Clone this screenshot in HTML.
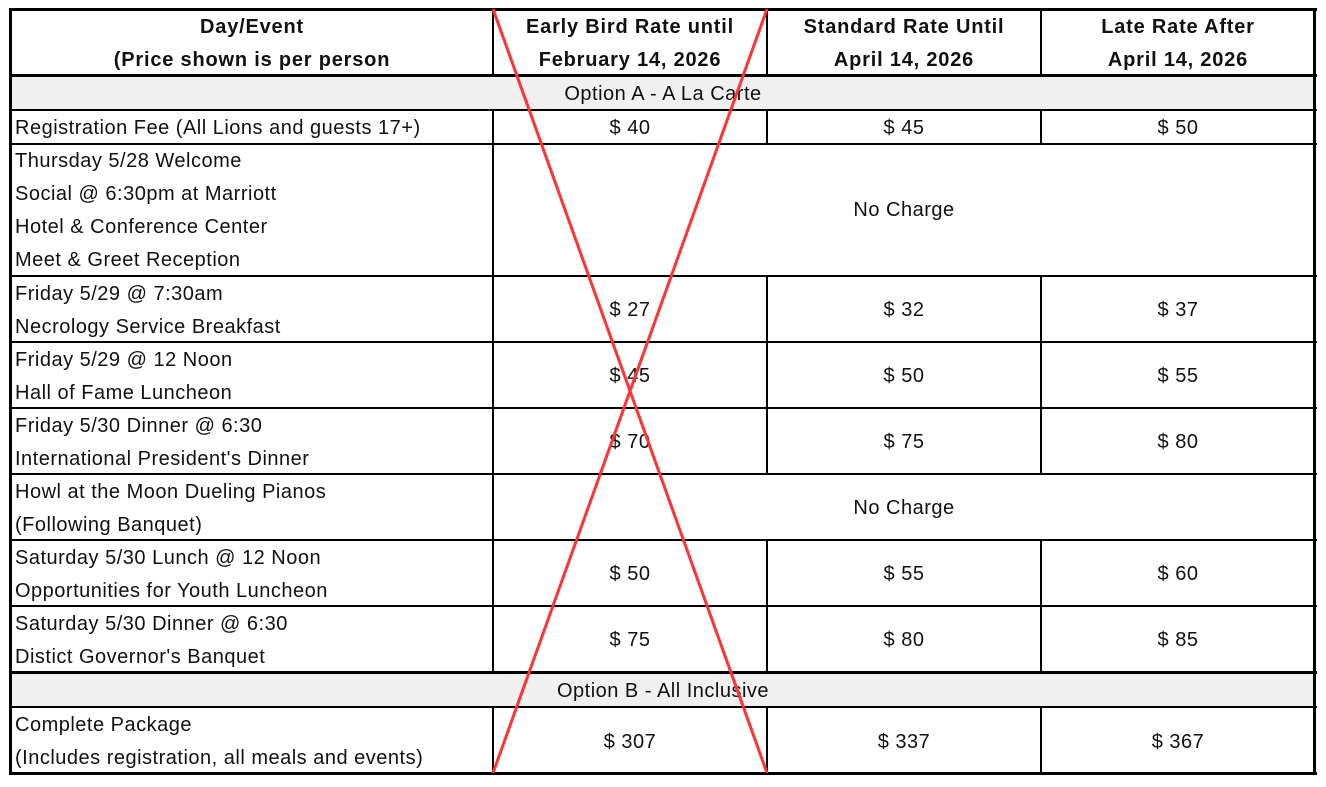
<!DOCTYPE html>
<html><head><meta charset="utf-8"><style>
body{margin:0;width:1326px;height:787px;background:#fff;position:relative;overflow:hidden;font-family:"Liberation Sans",sans-serif;color:#111;font-size:20px;letter-spacing:0.5px}
.h{position:absolute;background:#000}
.t{position:absolute;line-height:33px;white-space:nowrap;margin-top:2px}
.c{text-align:center}
.b{font-weight:bold;letter-spacing:0.8px}
.g{position:absolute;background:#f0f0f0}
</style></head><body>
<div class="g" style="left:11px;top:77px;width:1303px;height:33px"></div>
<div class="g" style="left:11px;top:673px;width:1303px;height:34px"></div>
<div class="h" style="left:9px;top:8px;width:1308px;height:3px"></div>
<div class="h" style="left:9px;top:772px;width:1308px;height:3px"></div>
<div class="h" style="left:9px;top:8px;width:3px;height:767px"></div>
<div class="h" style="left:1313px;top:8px;width:3px;height:767px"></div>
<div class="h" style="left:9px;top:74px;width:1308px;height:3px"></div>
<div class="h" style="left:9px;top:109px;width:1308px;height:2px"></div>
<div class="h" style="left:9px;top:143px;width:1308px;height:2px"></div>
<div class="h" style="left:9px;top:275px;width:1308px;height:2px"></div>
<div class="h" style="left:9px;top:341px;width:1308px;height:2px"></div>
<div class="h" style="left:9px;top:407px;width:1308px;height:2px"></div>
<div class="h" style="left:9px;top:473px;width:1308px;height:2px"></div>
<div class="h" style="left:9px;top:539px;width:1308px;height:2px"></div>
<div class="h" style="left:9px;top:605px;width:1308px;height:2px"></div>
<div class="h" style="left:9px;top:671px;width:1308px;height:3px"></div>
<div class="h" style="left:9px;top:706px;width:1308px;height:2px"></div>
<div class="h" style="left:492px;top:9px;width:2px;height:67px"></div>
<div class="h" style="left:766px;top:9px;width:2px;height:67px"></div>
<div class="h" style="left:1040px;top:9px;width:2px;height:67px"></div>
<div class="h" style="left:492px;top:110px;width:2px;height:166px"></div>
<div class="h" style="left:766px;top:110px;width:2px;height:34px"></div>
<div class="h" style="left:1040px;top:110px;width:2px;height:34px"></div>
<div class="h" style="left:492px;top:276px;width:2px;height:396px"></div>
<div class="h" style="left:766px;top:276px;width:2px;height:198px"></div>
<div class="h" style="left:1040px;top:276px;width:2px;height:198px"></div>
<div class="h" style="left:766px;top:540px;width:2px;height:132px"></div>
<div class="h" style="left:1040px;top:540px;width:2px;height:132px"></div>
<div class="h" style="left:492px;top:707px;width:2px;height:66px"></div>
<div class="h" style="left:766px;top:707px;width:2px;height:66px"></div>
<div class="h" style="left:1040px;top:707px;width:2px;height:66px"></div>
<div class="t c b" style="left:12px;width:480px;top:9px">Day/Event<br>(Price shown is per person</div>
<div class="t c b" style="left:494px;width:272px;top:9px">Early Bird Rate until<br>February 14, 2026</div>
<div class="t c b" style="left:768px;width:272px;top:9px">Standard Rate Until<br>April 14, 2026</div>
<div class="t c b" style="left:1042px;width:272px;top:9px">Late Rate After<br>April 14, 2026</div>
<div class="t c" style="left:12px;width:1302px;top:76px">Option A - A La Carte</div>
<div class="t c" style="left:12px;width:1302px;top:673px">Option B - All Inclusive</div>
<div class="t" style="left:15px;top:110px">Registration Fee (All Lions and guests 17+)</div>
<div class="t" style="left:15px;top:143px">Thursday 5/28 Welcome<br>Social @ 6:30pm at Marriott<br>Hotel &amp; Conference Center<br>Meet &amp; Greet Reception</div>
<div class="t" style="left:15px;top:276px">Friday 5/29 @ 7:30am<br>Necrology Service Breakfast</div>
<div class="t" style="left:15px;top:342px">Friday 5/29 @ 12 Noon<br>Hall of Fame Luncheon</div>
<div class="t" style="left:15px;top:408px">Friday 5/30 Dinner @ 6:30<br>International President's Dinner</div>
<div class="t" style="left:15px;top:474px">Howl at the Moon Dueling Pianos<br>(Following Banquet)</div>
<div class="t" style="left:15px;top:540px">Saturday 5/30 Lunch @ 12 Noon<br>Opportunities for Youth Luncheon</div>
<div class="t" style="left:15px;top:606px">Saturday 5/30 Dinner @ 6:30<br>Distict Governor's Banquet</div>
<div class="t" style="left:15px;top:707px">Complete Package<br>(Includes registration, all meals and events)</div>
<div class="t c" style="left:494px;width:272px;top:110px">$ 40</div>
<div class="t c" style="left:768px;width:272px;top:110px">$ 45</div>
<div class="t c" style="left:1042px;width:272px;top:110px">$ 50</div>
<div class="t c" style="left:494px;width:820px;top:192px">No Charge</div>
<div class="t c" style="left:494px;width:272px;top:292px">$ 27</div>
<div class="t c" style="left:768px;width:272px;top:292px">$ 32</div>
<div class="t c" style="left:1042px;width:272px;top:292px">$ 37</div>
<div class="t c" style="left:494px;width:272px;top:358px">$ 45</div>
<div class="t c" style="left:768px;width:272px;top:358px">$ 50</div>
<div class="t c" style="left:1042px;width:272px;top:358px">$ 55</div>
<div class="t c" style="left:494px;width:272px;top:424px">$ 70</div>
<div class="t c" style="left:768px;width:272px;top:424px">$ 75</div>
<div class="t c" style="left:1042px;width:272px;top:424px">$ 80</div>
<div class="t c" style="left:494px;width:820px;top:490px">No Charge</div>
<div class="t c" style="left:494px;width:272px;top:556px">$ 50</div>
<div class="t c" style="left:768px;width:272px;top:556px">$ 55</div>
<div class="t c" style="left:1042px;width:272px;top:556px">$ 60</div>
<div class="t c" style="left:494px;width:272px;top:622px">$ 75</div>
<div class="t c" style="left:768px;width:272px;top:622px">$ 80</div>
<div class="t c" style="left:1042px;width:272px;top:622px">$ 85</div>
<div class="t c" style="left:494px;width:272px;top:724px">$ 307</div>
<div class="t c" style="left:768px;width:272px;top:724px">$ 337</div>
<div class="t c" style="left:1042px;width:272px;top:724px">$ 367</div>
<svg style="position:absolute;left:0;top:0" width="1326" height="787">
<line x1="493" y1="9" x2="767" y2="773" stroke="#f33" stroke-width="3"/>
<line x1="767" y1="9" x2="493" y2="773" stroke="#f33" stroke-width="3"/>
</svg>
</body></html>
